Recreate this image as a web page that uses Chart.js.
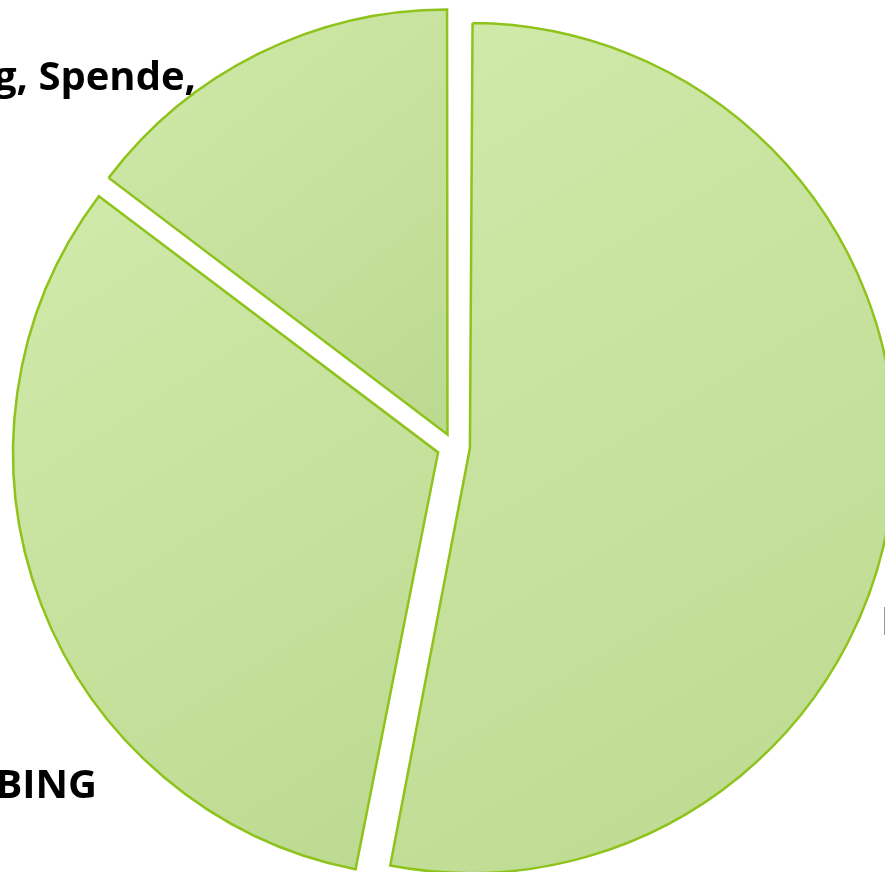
<!DOCTYPE html>
<html>
<head>
<meta charset="utf-8">
<title>Pie</title>
<script src="https://cdn.jsdelivr.net/npm/chart.js@4/dist/chart.umd.min.js"></script>
<style>
    html, body { margin: 0; padding: 0; background: #ffffff; }
    #wrap { width: 885px; height: 872px; overflow: hidden; }
</style>
</head>
<body>
<div id="wrap"><canvas id="pieChart" width="885" height="872"></canvas></div>
<script>
    'use strict';

    // categories and shares (clockwise from 12 o'clock)
    var categories = ['Mitgliedsbeiträge', 'GOOGLE, BING', 'Werbung, Spende,'];
    var shares = [53.1, 32.2, 14.7];

    var RADIUS = 425;
    var explode = [66, 66, 54]; // chart.js moves each arc by offset / 4
    var lightGreen = '#d0eaaa';
    var darkGreen = '#bcd990';
    var lineGreen = '#8ec31c';

    // label text positions (outside end, partly cut by the frame)
    var labelSpots = [
        {x: 881, y: 635, align: 'left'},
        {x: 97, y: 798, align: 'right'},
        {x: 196, y: 90, align: 'right'}
    ];

    function sliceGradient(context) {
        var chart = context.chart;
        var area = chart.chartArea;
        if (!area) return lightGreen;
        var data = context.dataset.data;
        var total = data.reduce(function (a, b) { return a + b; }, 0);
        var before = 0;
        for (var i = 0; i < context.dataIndex; i++) before += data[i];
        var a0 = -Math.PI / 2 + before / total * 2 * Math.PI;
        var a1 = a0 + data[context.dataIndex] / total * 2 * Math.PI;
        var cx = (area.left + area.right) / 2;
        var cy = (area.top + area.bottom) / 2;
        var xs = [cx], ys = [cy];
        var angles = [a0, a1];
        for (var k = -4; k <= 8; k++) {
            var q = k * Math.PI / 2;
            if (q > a0 && q < a1) angles.push(q);
        }
        angles.forEach(function (a) {
            xs.push(cx + Math.cos(a) * RADIUS);
            ys.push(cy + Math.sin(a) * RADIUS);
        });
        var g = chart.ctx.createLinearGradient(Math.min.apply(null, xs), Math.min.apply(null, ys),
            Math.max.apply(null, xs), Math.max.apply(null, ys));
        g.addColorStop(0, lightGreen);
        g.addColorStop(1, darkGreen);
        return g;
    }

    // keep every exploded slice at the same radius
    var evenRadius = {
        id: 'evenRadius',
        afterDatasetsUpdate: function (chart) {
            chart.getDatasetMeta(0).data.forEach(function (arc, i) {
                var fix = 1 - Math.sin(Math.min(Math.PI, arc.circumference || 0));
                arc.outerRadius = RADIUS - (explode[i] / 4) * fix;
            });
        }
    };

    var outsideLabels = {
        id: 'outsideLabels',
        afterDraw: function (chart) {
            var ctx = chart.ctx;
            ctx.save();
            ctx.fillStyle = '#000000';
            ctx.font = 'bold 40px "Open Sans", "Liberation Sans", sans-serif';
            ctx.textBaseline = 'alphabetic';
            chart.data.labels.forEach(function (label, i) {
                var spot = labelSpots[i];
                ctx.textAlign = spot.align;
                ctx.fillText(label, spot.x, spot.y);
            });
            ctx.restore();
        }
    };

    var chartObject = new Chart(document.getElementById('pieChart').getContext('2d'), {
        type: 'pie',
        data: {
            labels: categories,
            datasets: [{
                data: shares,
                backgroundColor: sliceGradient,
                borderColor: lineGreen,
                borderWidth: 2.5,
                borderJoinStyle: 'miter',
                offset: explode
            }]
        },
        options: {
            responsive: false,
            animation: false,
            events: [],
            radius: RADIUS,
            layout: {padding: {left: 22, top: 21, right: 0, bottom: 0}},
            plugins: {
                legend: {display: false},
                tooltip: {enabled: false},
                title: {display: false}
            }
        },
        plugins: [evenRadius, outsideLabels]
    });
</script>
</body>
</html>
